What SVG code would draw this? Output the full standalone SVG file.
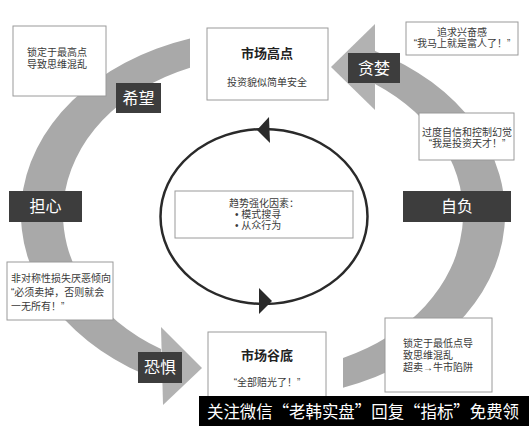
<svg xmlns="http://www.w3.org/2000/svg" width="529" height="426" viewBox="0 0 529 426">
<style>
text{font-family:"Liberation Sans","Noto Sans CJK SC",sans-serif;fill:#3a3a3a}
.box{fill:#fff;stroke:#9a9a9a;stroke-width:1}
.lab{fill:#3d3d3d}
.lt{fill:#fff;font-size:16px;text-anchor:middle}
.t10{font-size:10px}
.c{text-anchor:middle}
.title{font-size:13px;font-weight:bold;text-anchor:middle;fill:#222}
.band{fill:#a9a9a9}
.head{fill:#b2b2b2}
.wm{font-family:"Noto Sans CJK SC",sans-serif;fill:#fff;font-size:17px}
</style>
<rect width="529" height="426" fill="#fff"/>
<g id="connectors">
  <path class="band" d="M 343 387.7 A 242 184 0 0 0 375 50.9 L 375 83.9 A 200 157 0 0 1 343 357.9 Z"/>
  <polygon class="head" points="375,24 331,67 375,110"/>
  <path class="band" d="M 190 38.6 A 242 184 0 0 0 161 380.9 L 161 349 A 200 157 0 0 1 190 67.8 Z"/>
  <polygon class="head" points="161,327 202,368 163,405"/>
  <ellipse cx="264" cy="216.5" rx="103.5" ry="87.5" fill="none" stroke="#2a2a2a" stroke-width="2.5"/>
  <polygon fill="#2a2a2a" points="269,117 257,130 270,143"/>
  <polygon fill="#2a2a2a" points="259,288 272,301 259,314"/>
</g>
<g id="center">
  <rect class="box" x="175" y="191" width="178" height="47"/>
  <text class="t10 c" x="264" y="207">趋势强化因素：</text>
  <text class="t10" x="235" y="218">• 模式搜寻</text>
  <text class="t10" x="235" y="229">• 从众行为</text>
</g>
<g id="top">
  <rect class="box" x="207" y="28" width="121" height="72"/>
  <text class="title" x="267" y="58">市场高点</text>
  <text class="t10 c" x="267" y="86">投资貌似简单安全</text>
</g>
<g id="bottom">
  <rect class="box" x="208" y="332" width="118" height="94"/>
  <text class="title" x="267" y="360">市场谷底</text>
  <text class="t10 c" x="267" y="386">“全部赔光了！”</text>
</g>
<g id="topleft">
  <rect class="box" x="13" y="26" width="93" height="70"/>
  <text class="t10 c" x="57" y="56">锁定于最高点</text>
  <text class="t10 c" x="57" y="68">导致思维混乱</text>
</g>
<g id="topright">
  <rect class="box" x="406" y="22" width="112" height="33"/>
  <text class="t10 c" x="462" y="36">追求兴奋感</text>
  <text class="t10 c" x="462" y="47">“我马上就是富人了！”</text>
</g>
<g id="rightmid">
  <rect class="box" x="419" y="113" width="95" height="47"/>
  <text class="t10 c" x="467" y="136">过度自信和控制幻觉</text>
  <text class="t10 c" x="467" y="147">“我是投资天才！”</text>
</g>
<g id="bottomright">
  <rect class="box" x="385" y="318" width="107" height="74"/>
  <text class="t10" x="403" y="347">锁定于最低点导</text>
  <text class="t10" x="403" y="359">致思维混乱</text>
  <text class="t10" x="403" y="371">超卖→牛市陷阱</text>
</g>
<g id="leftbottom">
  <rect class="box" x="7" y="262" width="106" height="58"/>
  <text class="t10" x="11" y="282">非对称性损失厌恶倾向</text>
  <text class="t10" x="11" y="296">“必须卖掉，否则就会</text>
  <text class="t10" x="11" y="310">一无所有！”</text>
</g>
<g id="hope">
  <rect class="lab" x="116" y="83" width="45" height="30"/>
  <text class="lt" x="138.5" y="104">希望</text>
</g>
<g id="greed">
  <rect class="lab" x="348" y="53" width="52" height="30"/>
  <text class="lt" x="374" y="74">贪婪</text>
</g>
<g id="conceit">
  <rect class="lab" x="403" y="191" width="108" height="31"/>
  <text class="lt" x="457" y="212">自负</text>
</g>
<g id="worry">
  <rect class="lab" x="9" y="191" width="73" height="31"/>
  <text class="lt" x="45.5" y="212">担心</text>
</g>
<g id="fear">
  <rect class="lab" x="138" y="352" width="44" height="31"/>
  <text class="lt" x="160" y="373">恐惧</text>
</g>
<g id="watermark">
  <rect x="199" y="396" width="330" height="30" fill="#000"/>
  <text class="wm" x="207" y="418" textLength="312" lengthAdjust="spacingAndGlyphs">关注微信“老韩实盘”回复“指标”免费领</text>
</g>
</svg>
